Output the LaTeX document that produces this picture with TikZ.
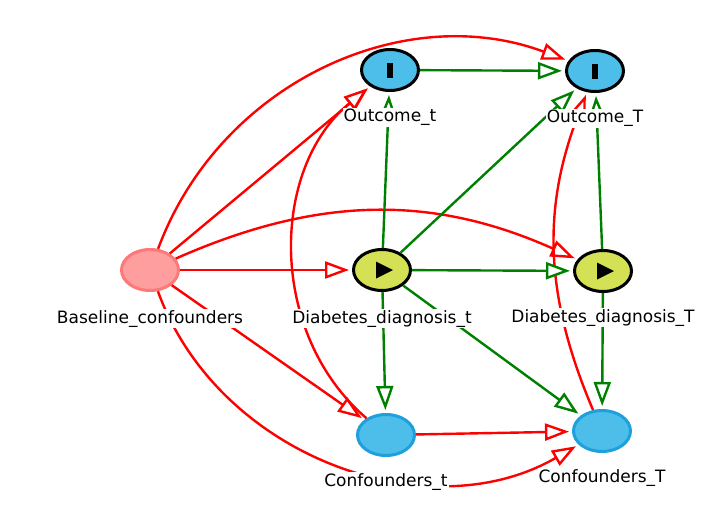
\documentclass[tikz,border=0pt]{standalone}
\usepackage{fontspec}
\setmainfont{DejaVu Sans}
\usetikzlibrary{shapes.geometric,positioning,arrows.meta}
\definecolor{outblue}{RGB}{77,189,233}
\definecolor{covline}{RGB}{30,160,220}
\definecolor{expgreen}{RGB}{212,225,85}
\definecolor{basefill}{RGB}{255,158,158}
\definecolor{baseline}{RGB}{255,120,120}
\definecolor{pathgreen}{RGB}{0,128,0}
\definecolor{pathred}{RGB}{255,0,0}
\tikzset{every node/.style={font=\fontsize{17}{20}\selectfont},
  var/.style={ellipse, minimum width=57pt, minimum height=41pt, inner sep=0pt, line width=3pt},
  outvar/.style={var, draw=black, fill=outblue,
    path picture={\fill[black] (path picture bounding box.center) ++(-3pt,-7.5pt) rectangle ++(6pt,15pt);}},
  expvar/.style={var, draw=black, fill=expgreen,
    path picture={\fill[black] (path picture bounding box.center) ++(-6pt,8.5pt) -- ++(17pt,-8.5pt) -- ++(-17pt,-8.5pt) -- cycle;}},
  basevar/.style={var, draw=baseline, fill=basefill},
  covvar/.style={var, draw=covline, fill=outblue},
  lbl/.style={fill=white, inner sep=1pt},
  causal/.style={pathgreen, line width=2.4pt, -{Triangle[length=24pt,width=17pt,fill=white]}, shorten >=3pt},
  biasing/.style={pathred, line width=2.4pt, -{Triangle[length=24pt,width=17pt,fill=white]}, shorten >=3pt}}

\begin{document}
\begin{tikzpicture}[x=1pt,y=-1pt]
   \useasboundingbox (0,0) rectangle (713,525);
   % variables
   \node[basevar] (bc) at (150,270) {};
   \node[expvar]  (dt) at (382,270) {};
   \node[expvar]  (dT) at (603,271) {};
   \node[outvar]  (ot) at (390,70) {};
   \node[outvar]  (oT) at (595,71) {};
   \node[covvar]  (ct) at (386,435) {};
   \node[covvar]  (cT) at (602,431) {};
   % biasing paths
   \draw[biasing] (bc) to[bend left=45] (oT);
   \draw[biasing] (bc) -- (ot);
   \draw[biasing] (bc) -- (dt);
   \draw[biasing] (bc) to[bend left=24] (dT);
   \draw[biasing] (bc) -- (ct);
   \draw[biasing] (bc) to[bend right=50] (cT);
   \draw[biasing] (ct) to[bend left=50] (ot);
   \draw[biasing] (ct) -- (cT);
   \draw[biasing] (cT) to[bend left=22] (oT);
   % causal paths
   \draw[causal] (ot) -- (oT);
   \draw[causal] (dt) -- (ot);
   \draw[causal] (dt) -- (oT);
   \draw[causal] (dt) -- (dT);
   \draw[causal] (dt) -- (ct);
   \draw[causal] (dt) -- (cT);
   \draw[causal] (dT) -- (oT);
   \draw[causal] (dT) -- (cT);
   % labels
   \node[lbl, below=17pt of bc] (bcl) {Baseline\_confounders};
   \node[lbl, below=17pt of dt] (dtl) {Diabetes\_diagnosis\_t};
   \node[lbl, below=15pt of dT] (dTl) {Diabetes\_diagnosis\_T};
   \node[lbl, below=16pt of ot] (otl) {Outcome\_t};
   \node[lbl, below=16pt of oT] (oTl) {Outcome\_T};
   \node[lbl, below=15pt of ct] (ctl) {Confounders\_t};
   \node[lbl, below=15pt of cT] (cTl) {Confounders\_T};
\end{tikzpicture}
\end{document}
